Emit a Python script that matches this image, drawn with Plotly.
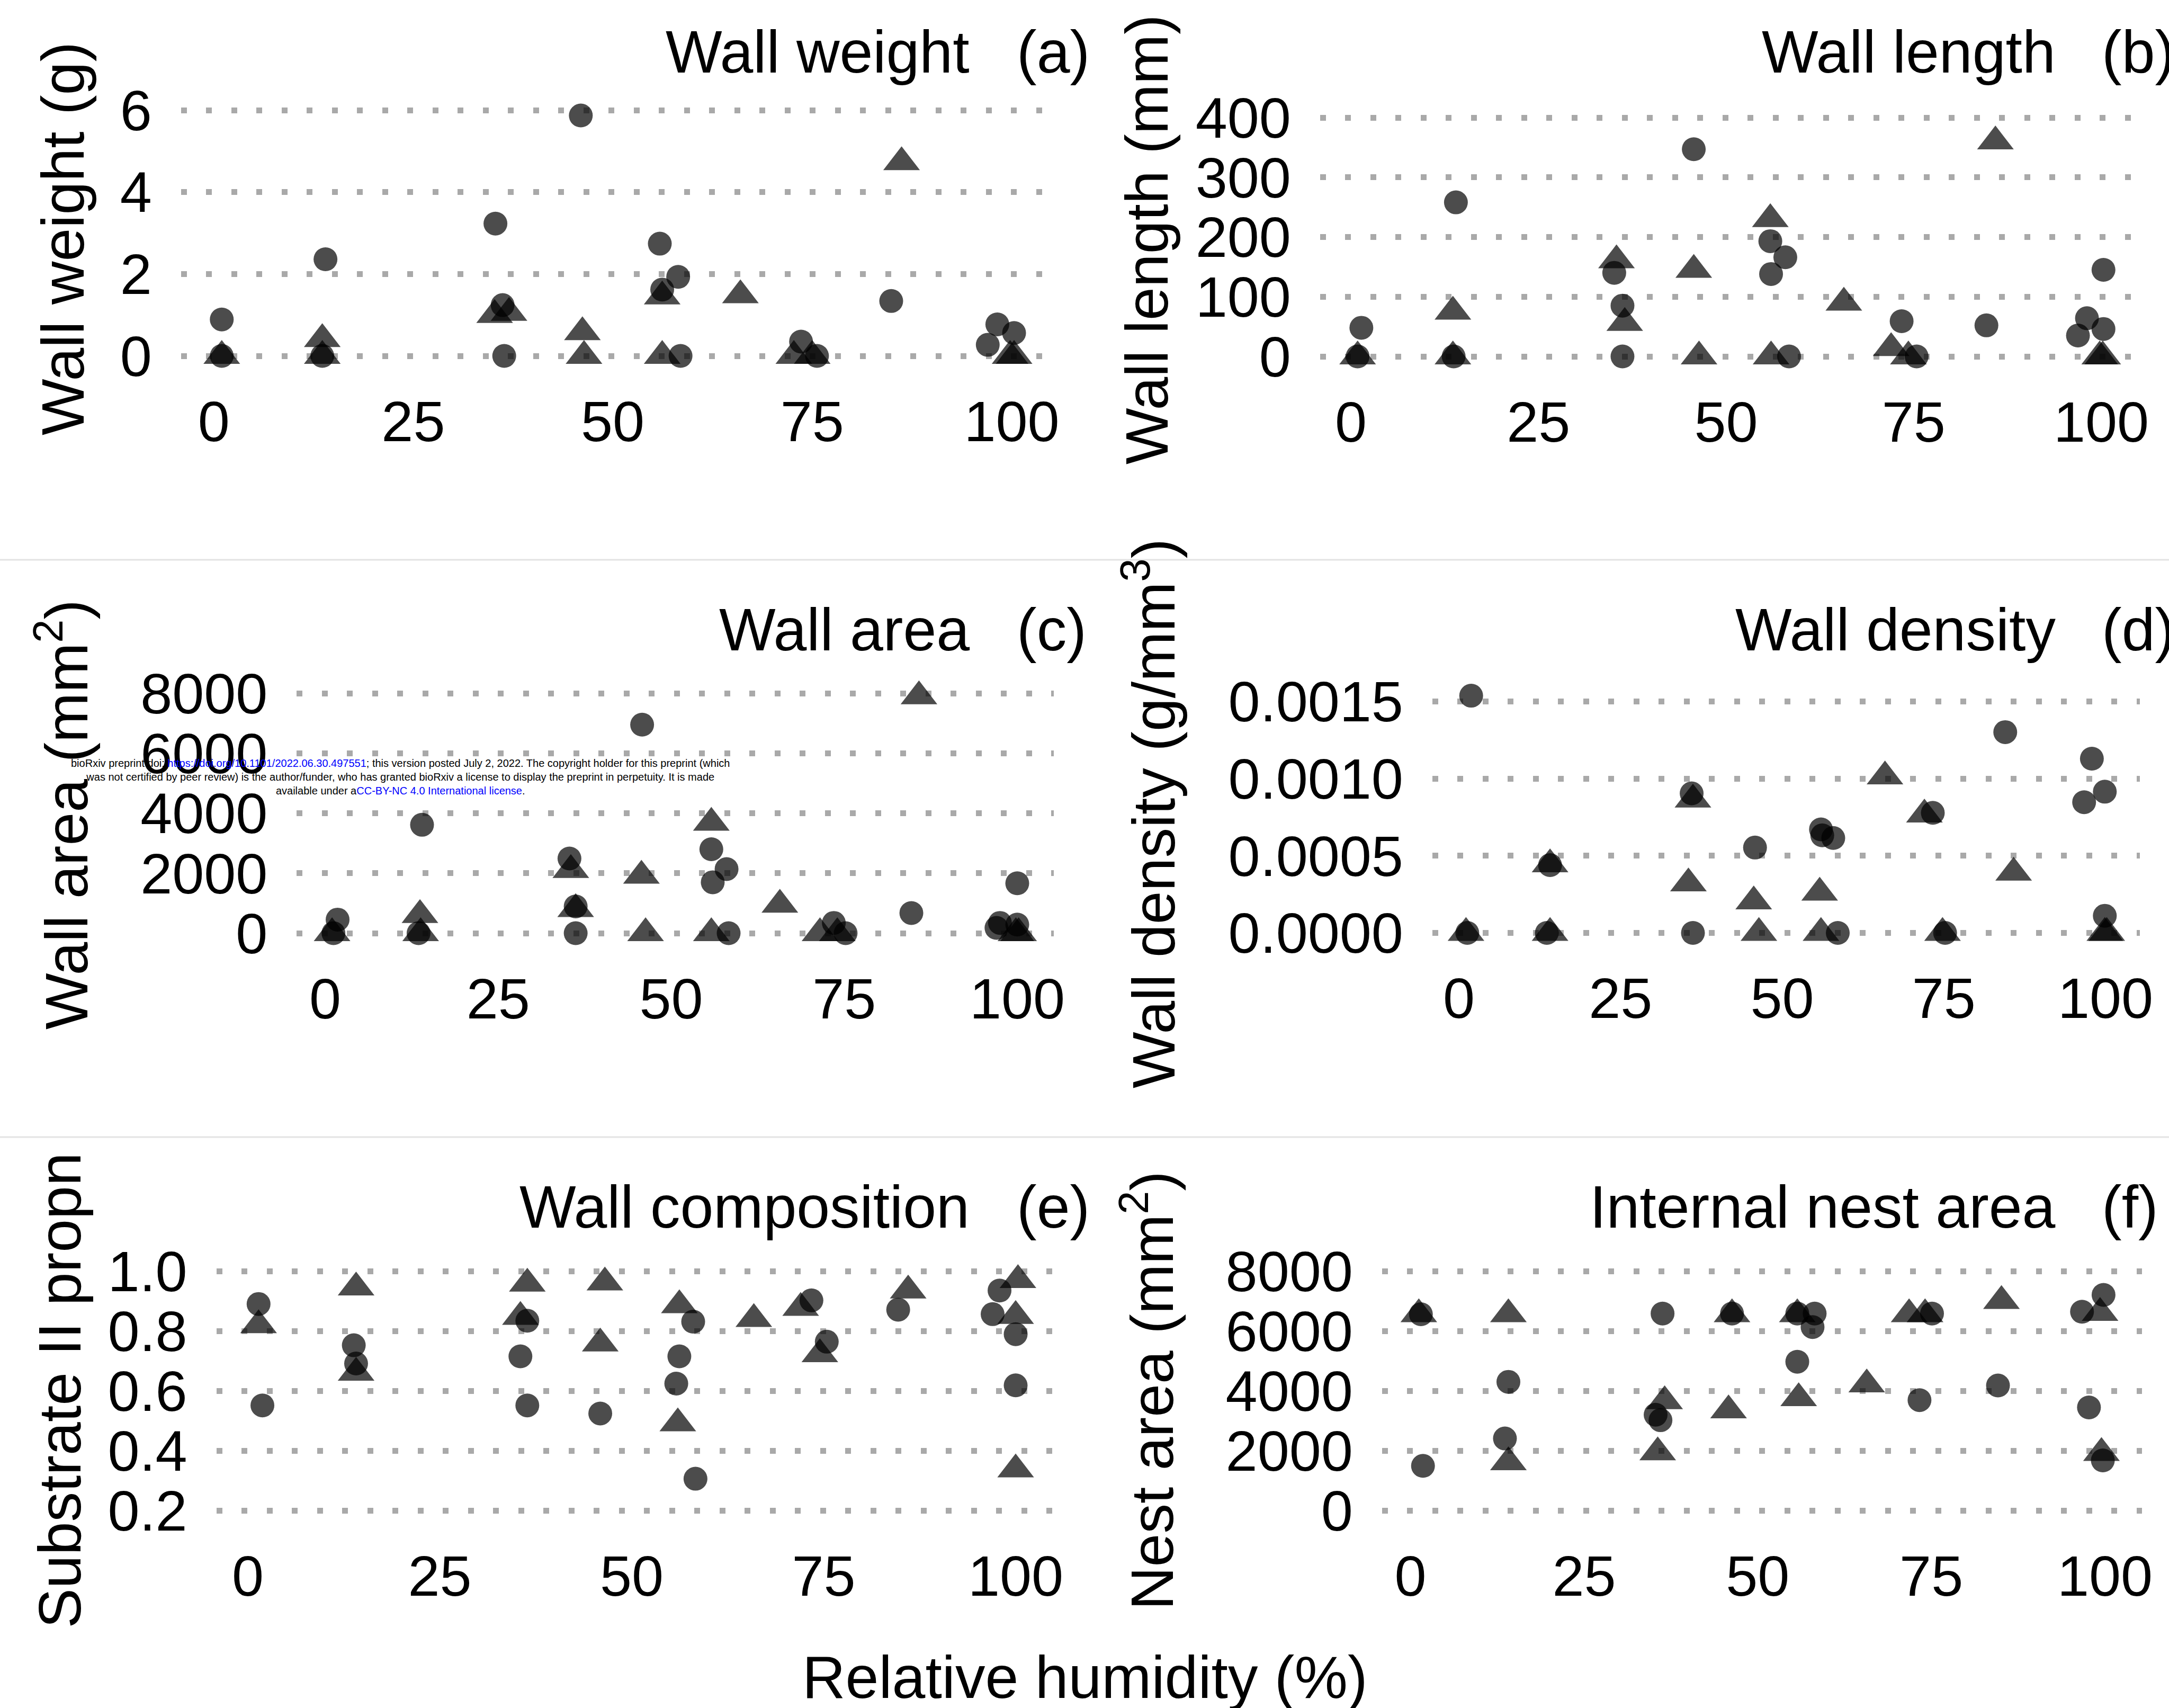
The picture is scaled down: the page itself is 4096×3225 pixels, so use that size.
import plotly.graph_objects as go

# ---------------- data ----------------
rh_ticks = [0, 25, 50, 75, 100]

# (a) wall weight (g)
a_circ_rh = [1.0, 1.0, 14.0, 13.6, 35.3, 36.4, 36.2, 46.0, 55.9, 56.2, 58.2, 58.5, 73.6, 75.6, 84.9, 98.2, 97.0, 100.3]
a_circ_val = [0.89, 0.0, 2.36, 0.0, 3.23, 0.0, 1.24, 5.87, 2.74, 1.62, 1.93, 0.0, 0.35, 0.0, 1.34, 0.77, 0.27, 0.56]
a_tri_rh = [1.0, 13.6, 13.6, 35.2, 37.0, 46.2, 46.4, 56.2, 56.2, 66.0, 72.7, 75.0, 86.2, 99.8, 100.3]
a_tri_val = [0.0, 0.41, 0.0, 1.0, 1.05, 0.58, 0.0, 1.45, 0.0, 1.48, 0.0, 0.0, 4.73, 0.0, 0.0]

# (b) wall length (mm)
b_circ_rh = [1.4, 0.9, 14.0, 13.7, 35.1, 36.2, 36.2, 45.7, 55.9, 57.9, 56.0, 58.4, 73.4, 75.4, 84.7, 98.1, 96.9, 100.3, 100.3]
b_circ_val = [48, 0, 258, 0, 140, 85, 0, 347, 193, 166, 138, 0, 59, 0, 52, 64, 35, 145, 46]
b_tri_rh = [0.9, 13.6, 13.6, 35.4, 36.5, 45.7, 46.4, 55.9, 56.0, 65.7, 72.0, 74.3, 85.9, 99.8, 100.2]
b_tri_val = [0, 75, 0, 161, 56, 145, 0, 230, 0, 90, 14, 0, 360, 0, 0]

# (c) wall area (mm^2)
c_circ_rh = [1.8, 1.2, 14.0, 13.5, 35.3, 36.2, 36.2, 45.8, 55.8, 58.0, 56.0, 58.3, 73.5, 75.2, 84.7, 97.5, 97.0, 100.0, 100.0]
c_circ_val = [452, 0, 3614, 0, 2490, 893, 0, 6953, 2799, 2138, 1697, 0, 342, 0, 672, 342, 176, 1664, 287]
c_tri_rh = [1.0, 13.7, 13.8, 35.5, 36.2, 45.7, 46.3, 55.8, 55.8, 65.7, 71.5, 74.0, 85.8, 99.8, 100.2]
c_tri_val = [0, 606, 0, 2105, 804, 1917, 0, 3680, 0, 948, 0, 0, 7900, 0, 0]

# (d) wall density (g/mm^3)
d_circ_rh = [1.9, 1.3, 14.1, 13.6, 36.0, 36.2, 45.8, 56.0, 56.2, 57.9, 58.6, 73.3, 75.2, 84.5, 97.9, 96.7, 99.9, 99.9]
d_circ_val = [0.001537, 0, 0.000439, 0, 0.000904, 0, 0.000553, 0.000671, 0.000632, 0.000615, 0,
              0.000778, 0, 0.001301, 0.001129, 0.000847, 0.000915, 0.000111]
d_tri_rh = [1.1, 14.1, 14.1, 36.2, 35.5, 45.6, 46.4, 55.8, 56.0, 65.9, 72.0, 74.8, 85.8, 99.9, 100.2]
d_tri_val = [0, 0.000444, 0, 0.000864, 0.000321, 0.000204, 0, 0.000261, 0, 0.001014, 0.000767, 0, 0.000390, 0, 0]

# (e) wall composition (substrate II proportion)
e_circ_rh = [1.4, 1.9, 13.8, 14.1, 35.5, 36.4, 36.4, 45.9, 56.2, 55.8, 58.0, 58.3, 73.4, 75.4, 84.7, 97.0, 97.9, 100.0, 100.0]
e_circ_val = [0.890, 0.551, 0.752, 0.691, 0.715, 0.834, 0.551, 0.524, 0.715, 0.624, 0.831, 0.306, 0.902,
              0.764, 0.871, 0.856, 0.935, 0.789, 0.618]
e_tri_rh = [1.4, 14.1, 14.1, 36.4, 35.5, 46.5, 45.9, 56.2, 56.0, 65.9, 72.0, 74.5, 86.0, 100.3, 100.0, 100.0]
e_tri_val = [0.819, 0.945, 0.660, 0.958, 0.847, 0.962, 0.758, 0.886, 0.491, 0.840, 0.877, 0.722, 0.935,
             0.970, 0.850, 0.337]

# (f) internal nest area (mm^2)
f_circ_rh = [1.5, 1.8, 14.1, 13.6, 36.3, 35.3, 36.0, 46.3, 55.7, 55.7, 58.2, 57.9, 73.3, 75.1, 84.6, 96.7, 99.8, 97.7, 99.7]
f_circ_val = [6557, 1490, 4298, 2405, 6581, 3199, 3016, 6581, 4970, 6581, 6581, 6129, 3687, 6581, 4176, 6642, 7204, 3443, 1673]
f_tri_rh = [1.2, 14.1, 14.1, 35.6, 36.6, 46.3, 45.8, 55.7, 55.9, 65.7, 71.8, 74.1, 85.1, 99.3, 99.5]
f_tri_val = [6557, 6557, 1612, 1941, 3650, 6557, 3345, 6557, 3750, 4212, 6557, 6557, 7000, 6600, 1920]

# ---------------- styling / layout ----------------
W, H = 4096, 3225
FONT = "Liberation Sans, Arial, Helvetica, sans-serif"
TICK_FS = 108
TXT_FS = 113
MARK = dict(color="black", opacity=0.7, line=dict(width=0))
CIRC_SIZE = 45
TRI_SIZE = 60
X_RANGE = [-4.1, 105.3]
XLAB_GAP = 82      # px from lowest gridline to top of x tick labels
YLAB_GAP = 56      # px between y tick labels and panel left edge

panels = [
    dict(circ=(a_circ_rh, a_circ_val), tri=(a_tri_rh, a_tri_val),
         x0=403.7, x100=1910.5, yref=((0, 672), (6, 208)), yrange=[-0.3, 6.3],
         yticks=[0, 2, 4, 6], fmt="", ytitle="Wall weight (g)", ytpos=(119, 451),
         title="Wall weight", tag="(a)", col=0, row=0),
    dict(circ=(b_circ_rh, b_circ_val), tri=(b_tri_rh, b_tri_val),
         x0=2551, x100=3968, yref=((0, 673), (400, 222)), yrange=[-20, 420],
         yticks=[0, 100, 200, 300, 400], fmt="", ytitle="Wall length (mm)", ytpos=(2166, 452),
         title="Wall length", tag="(b)", col=1, row=0),
    dict(circ=(c_circ_rh, c_circ_val), tri=(c_tri_rh, c_tri_val),
         x0=614, x100=1921, yref=((0, 1762), (8000, 1309)), yrange=[-400, 8400],
         yticks=[0, 2000, 4000, 6000, 8000], fmt="", ytitle="Wall area (mm<sup>2</sup>)", ytpos=(117, 1538),
         title="Wall area", tag="(c)", col=0, row=1),
    dict(circ=(d_circ_rh, d_circ_val), tri=(d_tri_rh, d_tri_val),
         x0=2755, x100=3976, yref=((0, 1761.5), (0.0015, 1324.4)), yrange=[-0.0000775, 0.0016275],
         yticks=[0, 0.0005, 0.001, 0.0015], fmt=".4f", ytitle="Wall density (g/mm<sup>3</sup>)",
         ytpos=(2170, 1536), title="Wall density", tag="(d)", col=1, row=1),
    dict(circ=(e_circ_rh, e_circ_val), tri=(e_tri_rh, e_tri_val),
         x0=468, x100=1918, yref=((0.2, 2852), (1.0, 2400)), yrange=[0.16, 1.04],
         yticks=[0.2, 0.4, 0.6, 0.8, 1.0], fmt=".1f", ytitle="Substrate II propn", ytpos=(112.5, 2626),
         title="Wall composition", tag="(e)", col=0, row=2),
    dict(circ=(f_circ_rh, f_circ_val), tri=(f_tri_rh, f_tri_val),
         x0=2663.6, x100=3975, yref=((0, 2852), (8000, 2400)), yrange=[-400, 8400],
         yticks=[0, 2000, 4000, 6000, 8000], fmt="", ytitle="Nest area (mm<sup>2</sup>)", ytpos=(2167, 2626),
         title="Internal nest area", tag="(f)", col=1, row=2),
]

TITLE_MAIN_RIGHT = [1833, 3884]
TITLE_TAG_LEFT = [1918, 3967]
TITLE_MID = [97.6, 1189, 2279]

fig = go.Figure()
annotations = []
layout_axes = {}

for i, p in enumerate(panels, start=1):
    sfx = "" if i == 1 else str(i)
    xa, ya = "x" + sfx, "y" + sfx

    ppx = (p["x100"] - p["x0"]) / 100.0
    left = p["x0"] + X_RANGE[0] * ppx
    right = p["x0"] + X_RANGE[1] * ppx
    (v0, p0), (v1, p1) = p["yref"]
    ppy = (p0 - p1) / (v1 - v0)

    def ypx(v, v0=v0, p0=p0, ppy=ppy):
        return p0 - (v - v0) * ppy

    bottom = ypx(p["yrange"][0])
    top = ypx(p["yrange"][1])
    low_grid = ypx(min(p["yticks"]))
    x_standoff = int(round(max(0, (low_grid + XLAB_GAP) - bottom - 0.28 * TICK_FS)))

    cr, cv = p["circ"]
    tr, tv = p["tri"]
    fig.add_trace(go.Scatter(x=cr, y=cv, mode="markers", xaxis=xa, yaxis=ya,
                             marker=dict(symbol="circle", size=CIRC_SIZE, **MARK),
                             showlegend=False, hoverinfo="skip", cliponaxis=False))
    fig.add_trace(go.Scatter(x=tr, y=tv, mode="markers", xaxis=xa, yaxis=ya,
                             marker=dict(symbol="triangle-up", size=TRI_SIZE, **MARK),
                             showlegend=False, hoverinfo="skip", cliponaxis=False))

    layout_axes["xaxis" + sfx] = dict(
        domain=[left / W, right / W], anchor=ya, range=X_RANGE, automargin=False,
        tickmode="array", tickvals=rh_ticks, showgrid=False, zeroline=False,
        showline=False, ticks="", ticklabelstandoff=x_standoff,
        tickfont=dict(family=FONT, size=TICK_FS, color="black"))
    layout_axes["yaxis" + sfx] = dict(
        domain=[1 - bottom / H, 1 - top / H], anchor=xa, range=p["yrange"], automargin=False,
        tickmode="array", tickvals=p["yticks"], tickformat=p["fmt"],
        showgrid=True, gridcolor="#a9a9a9", gridwidth=11, griddash="11px,36.5px",
        zeroline=False, showline=False, ticks="", ticklabelstandoff=int(YLAB_GAP - 2),
        tickfont=dict(family=FONT, size=TICK_FS, color="black"))

    # y axis title (rotated)
    annotations.append(dict(text=p["ytitle"], xref="paper", yref="paper",
                            x=p["ytpos"][0] / W, y=1 - p["ytpos"][1] / H,
                            xanchor="center", yanchor="middle", textangle=-90, showarrow=False,
                            font=dict(family=FONT, size=TXT_FS, color="black")))
    # panel title + tag
    mid = TITLE_MID[p["row"]]
    annotations.append(dict(text=p["title"], xref="paper", yref="paper",
                            x=TITLE_MAIN_RIGHT[p["col"]] / W, y=1 - mid / H,
                            xanchor="right", yanchor="middle", showarrow=False,
                            font=dict(family=FONT, size=TXT_FS, color="black")))
    annotations.append(dict(text=p["tag"], xref="paper", yref="paper",
                            x=TITLE_TAG_LEFT[p["col"]] / W, y=1 - mid / H,
                            xanchor="left", yanchor="middle", showarrow=False,
                            font=dict(family=FONT, size=TXT_FS, color="black")))

# common x title
annotations.append(dict(text="Relative humidity (%)", xref="paper", yref="paper",
                        x=2049 / W, y=1 - 3167 / H, xanchor="center", yanchor="middle",
                        showarrow=False, font=dict(family=FONT, size=TXT_FS, color="black")))

# bioRxiv stamp
stamp = ('bioRxiv preprint doi: <span style="color:#0000ff">https://doi.org/10.1101/2022.06.30.497551</span>; '
         'this version posted July 2, 2022. The copyright holder for this preprint (which<br>'
         'was not certified by peer review) is the author/funder, who has granted bioRxiv a license to '
         'display the preprint in perpetuity. It is made<br>'
         'available under a<span style="color:#0000ff">CC-BY-NC 4.0 International license</span>.')
annotations.append(dict(text=stamp, xref="paper", yref="paper", x=756 / W, y=1 - 1467 / H,
                        xanchor="center", yanchor="middle", align="center", showarrow=False,
                        font=dict(family=FONT, size=20, color="black")))

shapes = []
for ysep in (1057, 2147):
    shapes.append(dict(type="line", xref="paper", yref="paper", x0=0, x1=1,
                       y0=1 - ysep / H, y1=1 - ysep / H, layer="below",
                       line=dict(color="#e3e3e3", width=3)))

fig.update_layout(width=W, height=H,
                  margin=dict(l=0, r=0, t=0, b=0, pad=0, autoexpand=False),
                  paper_bgcolor="white", plot_bgcolor="white",
                  annotations=annotations, shapes=shapes, showlegend=False,
                  font=dict(family=FONT, color="black"), **layout_axes)

fig.write_html("out.html")
